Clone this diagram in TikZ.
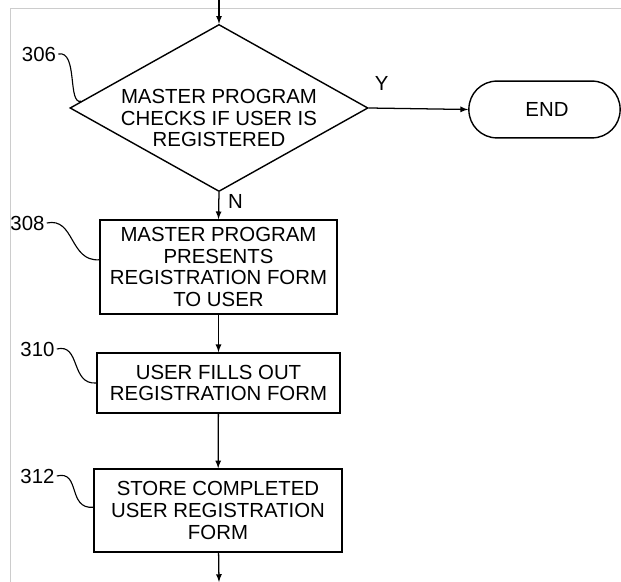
\documentclass[tikz,border=0pt]{standalone}
\usepackage{fontspec}
\setmainfont{Liberation Sans}
\usetikzlibrary{shapes.geometric,calc}

\begin{document}
\begin{tikzpicture}[x=0.025cm, y=-0.025cm,
        font=\fontsize{14.5}{15.5}\selectfont,
        stepbox/.style={draw, line width=1.1pt, align=center, inner sep=2pt},
        decision/.style={draw, diamond, line width=1pt, inner sep=0pt, minimum width=7.45cm, minimum height=4.175cm},
        terminal/.style={draw, line width=1pt, rounded corners=0.7cm, minimum width=3.78cm, minimum height=1.42cm},
        reflabel/.style={inner sep=0pt},
        leader/.style={line width=0.8pt},
        flow/.style={-latex, line width=0.9pt}]
        \useasboundingbox (0,0) rectangle (621,582);

        % Borde del escaneo
        \draw [gray!40, line width=0.6pt] (10,582) -- (10,8) -- (621,8);

        % Entrada y salida del fragmento
        \coordinate (in) at (219,0);
        \coordinate (out) at (219,582);

        % Decision 306
        \node [decision] (d306) at (219,108) {};
        \node [align=center, inner sep=0pt] (t306) at ([yshift=-0.25cm]d306.center) {MASTER PROGRAM\\CHECKS IF USER IS\\REGISTERED};
        \coordinate (c306) at ($(d306.west)!0.08!(d306.north)$);

        % Fin
        \node [terminal] (fin) at (544.5,109.5) {};
        \node [inner sep=0pt] (tfin) at (547,109.5) {END};

        % Pasos 308, 310 y 312
        \node [stepbox, minimum width=5.92cm, minimum height=2.35cm] (b308) at (218.5,267) {MASTER PROGRAM\\PRESENTS\\REGISTRATION FORM\\TO USER};
        \node [stepbox, minimum width=6.07cm, minimum height=1.5cm] (b310) at (218.5,383) {USER FILLS OUT\\REGISTRATION FORM};
        \node [stepbox, minimum width=6.2cm, minimum height=2.07cm] (b312) at (218,510.5) {STORE COMPLETED\\USER REGISTRATION\\FORM};

        % Referencias
        \node [reflabel] (l306) at (39,54) {306};
        \node [reflabel] (l308) at (27.5,223) {308};
        \node [reflabel] (l310) at (37.5,349) {310};
        \node [reflabel] (l312) at (37.5,476) {312};

        \draw [leader] ([xshift=0.05cm]l306.east) .. controls +(20,-4) and +(-14,4) .. (c306);
        \draw [leader] ([xshift=0.05cm]l308.east) .. controls +(28,-6) and +(-30,2) .. ([yshift=0.18cm]b308.west);
        \draw [leader] ([xshift=0.05cm]l310.east) .. controls +(24,-6) and +(-26,2) .. (b310.west);
        \draw [leader] ([xshift=0.05cm]l312.east) .. controls +(24,-6) and +(-26,2) .. ([yshift=0.08cm]b312.west);

        % Flechas
        \draw [flow] (in) -- (d306.north);
        \draw [flow] (d306.east) -- (fin.west) node [pos=0.13, above=0.3cm] (ly) {Y};
        \draw [flow] (d306.south) -- (b308.north) node [pos=0.35, right=0.1cm] (ln) {N};
        \draw [flow] (b308) -- (b310);
        \draw [flow] (b310) -- (b312);
        \draw [flow] (b312) -- (out);
    \end{tikzpicture}
\end{document}
